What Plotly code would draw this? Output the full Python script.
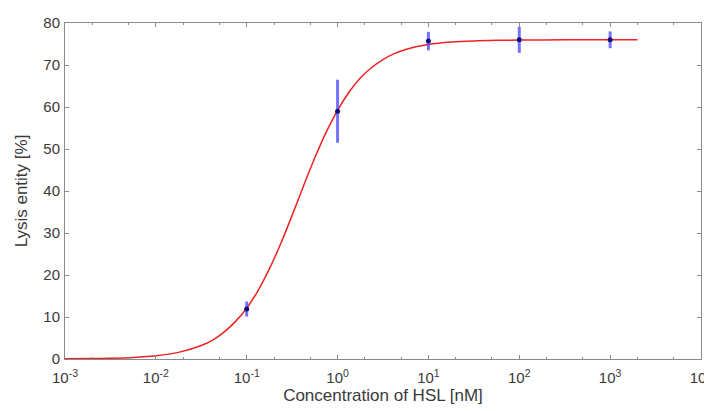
import plotly.graph_objects as go

# Measured data
conc_nM = [0.1, 1, 10, 100, 1000]
lysis_pct = [11.9, 59.0, 75.7, 76.0, 76.0]
lysis_err = [1.8, 7.5, 2.2, 3.1, 2.0]

# Fitted curve
curve_x = [0.001, 0.00178, 0.00316, 0.00562, 0.01, 0.0178, 0.0316, 0.0422, 0.0562,
           0.075, 0.1, 0.1334, 0.178, 0.2371, 0.316, 0.4217, 0.562, 0.7499,
           1, 1.334, 1.78, 2.371, 3.16, 4.217, 5.62, 7.499, 10, 17.8, 31.6,
           56.2, 100, 316, 1000, 2000]
curve_y = [0.04, 0.09, 0.18, 0.37, 0.77, 1.58, 3.2, 4.5, 6.4,
           8.9, 12.1, 16.3, 21.5, 27.5, 34.2, 41.2, 47.9, 54.0,
           59.2, 63.5, 66.9, 69.4, 71.3, 72.7, 73.7, 74.4, 74.9, 75.45, 75.73,
           75.87, 75.94, 75.99, 76.0, 76.0]

x_tickvals = [1e-3, 1e-2, 1e-1, 1, 10, 100, 1000, 10000]
x_ticktext = ["10<sup>-3</sup>", "10<sup>-2</sup>", "10<sup>-1</sup>", "10<sup>0</sup>",
              "10<sup>1</sup>", "10<sup>2</sup>", "10<sup>3</sup>", "10<sup>4</sup>"]
y_tickvals = [0, 10, 20, 30, 40, 50, 60, 70, 80]

FONT = "Liberation Sans, Arial"
TXT = "#3a3a3a"

fig = go.Figure()
fig.add_trace(go.Scatter(
    x=curve_x, y=curve_y, mode="lines",
    line=dict(color="rgb(235,35,35)", width=1.5, shape="spline", smoothing=0.8),
    showlegend=False, hoverinfo="skip"))
fig.add_trace(go.Scatter(
    x=conc_nM, y=lysis_pct, mode="markers",
    marker=dict(color="rgb(20,10,120)", size=5),
    error_y=dict(type="data", array=lysis_err, color="rgba(80,80,255,0.8)",
                 thickness=3, width=0),
    showlegend=False))

axis_common = dict(
    showline=True, linecolor="#8a8a8a", linewidth=1, mirror="ticks",
    ticks="inside", tickcolor="#8a8a8a", ticklen=4, showgrid=False, zeroline=False,
    tickfont=dict(family=FONT, size=15, color=TXT), automargin=False,
)

fig.update_xaxes(
    type="log", range=[-3, 4], tickvals=x_tickvals, ticktext=x_ticktext,
    ticklabeloverflow="allow", ticklabelstandoff=5,
    minor=dict(ticks="inside", ticklen=2, tickcolor="#8a8a8a", showgrid=False),
    title=dict(text="Concentration of HSL [nM]", standoff=2,
               font=dict(family=FONT, size=17, color=TXT)),
    **axis_common)
fig.update_yaxes(
    range=[0, 80], tickvals=y_tickvals, ticklabelstandoff=1,
    title=dict(text="Lysis entity [%]", standoff=11,
               font=dict(family=FONT, size=17, color=TXT)),
    **axis_common)

# page body has an 8px offset, so the figure is 8px smaller and margins shifted
fig.update_layout(
    width=704, height=403,
    margin=dict(l=57, r=11, t=15, b=52),
    paper_bgcolor="white", plot_bgcolor="white",
)

fig.write_html("out.html")
